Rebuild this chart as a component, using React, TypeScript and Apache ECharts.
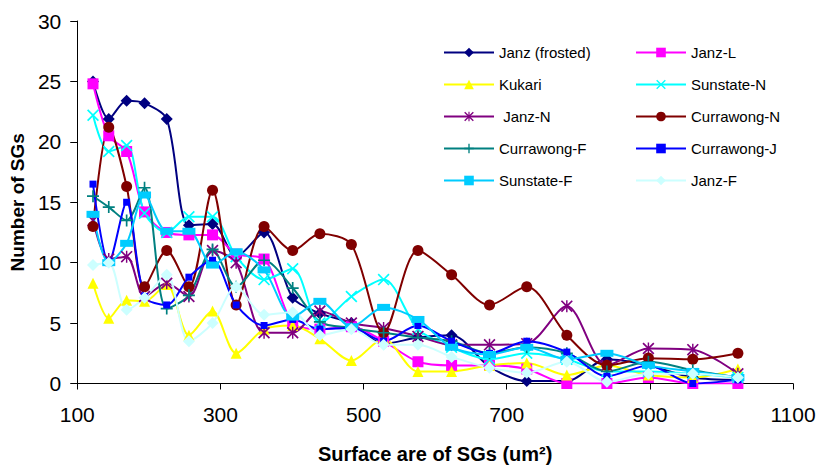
import React, { useEffect, useRef } from "react";
import * as echarts from "echarts";

const xValues = [122, 144, 169, 194, 225, 256, 289, 322, 361, 401, 439, 483, 528, 576, 623, 676, 728, 784, 840, 898, 960, 1023];

const janzFrosted = [25, 21.9, 23.4, 23.2, 21.9, 13.1, 13.2, 10.5, 12.5, 7.1, 5.8, 5.0, 3.3, 3.8, 4.0, 1.4, 0.2, 0.2, 2.0, 1.5, 0.5, 0.3];
const janzL = [24.8, 20.5, 19.2, 14.2, 12.5, 12.3, 12.3, 10.7, 10.3, 5.0, 4.5, 4.7, 3.5, 1.8, 1.5, 1.5, 1.2, 0, 0, 0.5, 0, 0];
const kukari = [8.3, 5.4, 6.9, 6.8, 8.2, 4.0, 6.0, 2.5, 4.5, 4.8, 3.7, 1.9, 3.7, 1.0, 1.0, 1.5, 1.7, 0.7, 1.5, 0.7, 0.5, 1.2];
const sunstateN = [22.2, 19.2, 19.7, 14.1, 12.5, 13.8, 13.8, 10.5, 8.6, 9.5, 5.0, 7.2, 8.6, 4.5, 3.0, 2.0, 2.5, 2.0, 1.0, 1.0, 0.8, 0.5];
const janzN = [13.5, 10.3, 10.5, 7.2, 8.3, 7.2, 11.0, 10.0, 4.2, 4.2, 6.0, 5.0, 4.6, 3.9, 3.2, 3.2, 3.3, 6.4, 1.5, 2.9, 2.8, 0.8];
const currawongN = [13.0, 21.2, 16.3, 8.0, 11.0, 8.0, 16.0, 6.5, 13.0, 11.0, 12.4, 11.5, 4.2, 11.0, 9.0, 6.5, 8.0, 4.0, 1.5, 2.1, 2.0, 2.5];
const currawongF = [15.5, 14.6, 13.5, 16.2, 6.2, 7.3, 11.1, 8.0, 10.2, 7.9, 5.1, 4.6, 4.2, 3.8, 3.5, 2.5, 3.0, 2.5, 1.0, 1.8, 1.1, 0.5];
const currawongJ = [16.5, 10.0, 15.0, 7.2, 6.5, 8.8, 10.2, 6.5, 4.8, 5.3, 4.5, 4.6, 3.5, 4.8, 3.5, 2.5, 3.5, 2.6, 0.6, 1.5, 0, 0.3];
const sunstateF = [14.0, 10.0, 11.6, 15.6, 12.6, 12.6, 9.8, 10.9, 9.4, 5.5, 6.8, 4.7, 6.3, 5.3, 3.0, 2.4, 3.0, 2.0, 2.5, 1.5, 1.0, 0.5];
const janzF = [9.8, 10.0, 6.1, 7.1, 9.0, 3.5, 5.0, 8.0, 5.7, 5.9, 4.0, 4.5, 3.2, 3.2, 2.2, 1.3, 0.9, 1.8, 0.15, 0.8, 0.8, 0.5];

const xTickStep = 200;
const yTickStep = 5;

const crossPath = "path://M0,1L1,0L5,4L9,0L10,1L6,5L10,9L9,10L5,6L1,10L0,9L4,5Z";
const starPath = "path://M0,1L1,0L5,4L9,0L10,1L6,5L10,9L9,10L5,6L1,10L0,9L4,5Z M4.4,0L5.6,0L5.6,10L4.4,10Z";
const plusPath = "path://M4.3,0H5.7V4.3H10V5.7H5.7V10H4.3V5.7H0V4.3H4.3Z";

type Def = { name: string; data: number[]; color: string; symbol: string; size: number | number[] };

const seriesDefs: Def[] = [
  { name: "Janz (frosted)", data: janzFrosted, color: "#000080", symbol: "diamond", size: 12 },
  { name: "Janz-L", data: janzL, color: "#FF00FF", symbol: "rect", size: 11 },
  { name: "Kukari", data: kukari, color: "#FFFF00", symbol: "triangle", size: 11 },
  { name: "Sunstate-N", data: sunstateN, color: "#00FFFF", symbol: crossPath, size: 12 },
  { name: " Janz-N", data: janzN, color: "#800080", symbol: starPath, size: 12 },
  { name: "Currawong-N", data: currawongN, color: "#800000", symbol: "circle", size: 11 },
  { name: "Currawong-F", data: currawongF, color: "#008080", symbol: plusPath, size: 12 },
  { name: "Currawong-J", data: currawongJ, color: "#0000FF", symbol: "rect", size: 7 },
  { name: "Sunstate-F", data: sunstateF, color: "#00CCFF", symbol: "rect", size: [13, 7] },
  { name: "Janz-F", data: janzF, color: "#CCFFFF", symbol: "diamond", size: 12 },
];

const col1 = ["Janz (frosted)", "Kukari", " Janz-N", "Currawong-F", "Sunstate-F"];
const col2 = ["Janz-L", "Sunstate-N", "Currawong-N", "Currawong-J", "Janz-F"];

export default function App() {
  const ref = useRef<HTMLDivElement>(null);
  useEffect(() => {
    if (!ref.current) return;
    const chart = echarts.init(ref.current, undefined, { renderer: "svg" });
    const font = '"Liberation Sans", Arial, sans-serif';
    const legendBase = {
      orient: "vertical",
      top: 45,
      padding: 0,
      itemWidth: 50,
      itemHeight: 12,
      itemGap: 17,
      textStyle: { fontSize: 15, color: "#000", fontFamily: font },
    };
    chart.setOption({
      animation: false,
      textStyle: { fontFamily: font },
      grid: { left: 76, right: 28, top: 21, bottom: 89.5, containLabel: false },
      xAxis: {
        type: "value",
        min: 100,
        max: 1100,
        interval: xTickStep,
        name: "Surface are of SGs (um\u00B2)",
        nameLocation: "middle",
        nameGap: 60,
        nameTextStyle: { fontSize: 20, fontWeight: "bold", color: "#000", fontFamily: font },
        axisLine: { show: true, onZero: false, lineStyle: { color: "#000", width: 1 } },
        axisTick: { show: true, length: 6, lineStyle: { color: "#000" } },
        axisLabel: { fontSize: 21, color: "#000", margin: 20, fontFamily: font, formatter: (v: number) => String(v) },
        splitLine: { show: false },
      },
      yAxis: {
        type: "value",
        min: 0,
        max: 30,
        interval: yTickStep,
        name: "Number of SGs",
        nameLocation: "middle",
        nameGap: 46,
        nameTextStyle: { fontSize: 19, fontWeight: "bold", color: "#000", fontFamily: font },
        axisLine: { show: true, lineStyle: { color: "#000", width: 1 } },
        axisTick: { show: true, length: 7, lineStyle: { color: "#000" } },
        axisLabel: { fontSize: 21, color: "#000", margin: 16, fontFamily: font, formatter: (v: number) => String(v) },
        splitLine: { show: false },
      },
      legend: [
        { ...legendBase, left: 443, data: col1 },
        { ...legendBase, left: 635, data: col2 },
      ],
      series: seriesDefs.map((d) => ({
        name: d.name,
        type: "line",
        smooth: 0.3,
        data: xValues.map((x, i) => [x, d.data[i]]),
        symbol: d.symbol,
        symbolSize: d.size,
        showSymbol: true,
        lineStyle: { color: d.color, width: 2 },
        itemStyle: { color: d.color, borderWidth: 0 },
        emphasis: { disabled: true },
      })),
    });
    return () => chart.dispose();
  }, []);
  return <div ref={ref} style={{ position: "absolute", left: 0, top: 0, width: 821, height: 473 }} />;
}
